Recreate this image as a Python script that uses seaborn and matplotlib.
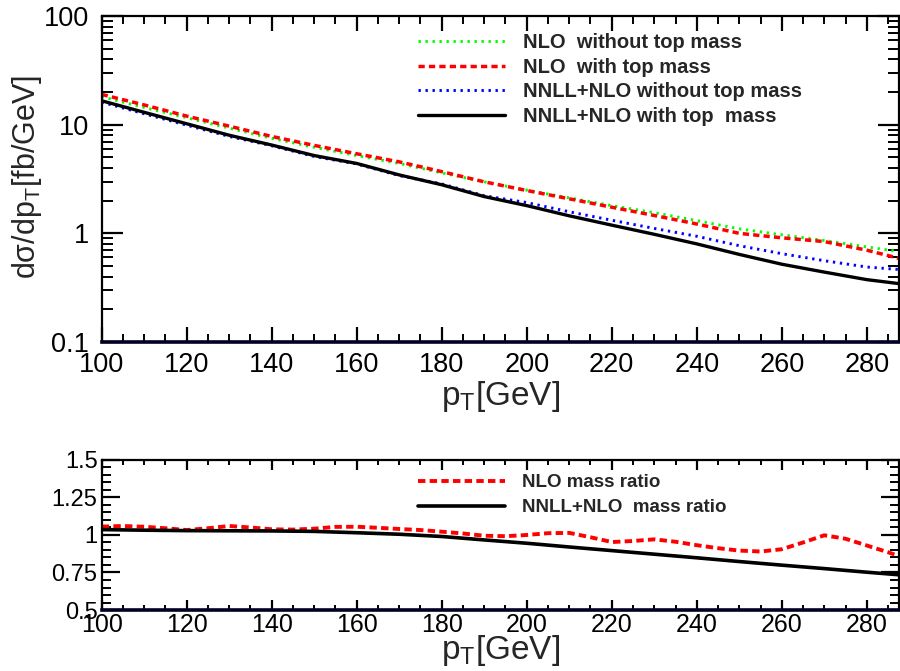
import numpy as np
import pandas as pd
import matplotlib
matplotlib.use("Agg")
import matplotlib.pyplot as plt
import seaborn as sns
from matplotlib.ticker import FixedLocator, FuncFormatter, LogLocator, MultipleLocator, NullFormatter

# ---------------- data ----------------
pt = [100, 110, 120, 130, 140, 150, 160, 170, 180, 190, 200, 210, 220, 230, 240, 250, 260, 270, 280, 287.5]
nlo_nomass = [18.1, 14.4, 11.6, 9.3, 7.5, 6.2, 5.2, 4.4, 3.6, 2.98, 2.5, 2.12, 1.8, 1.55, 1.31, 1.1, 0.97, 0.86, 0.75, 0.68]
nlo_mass = [19.0, 15.2, 12.0, 9.7, 7.8, 6.45, 5.4, 4.55, 3.7, 2.98, 2.48, 2.08, 1.74, 1.46, 1.22, 1.0, 0.91, 0.84, 0.70, 0.59]
nnll_nomass = [16.1, 12.6, 9.9, 7.8, 6.4, 5.1, 4.35, 3.4, 2.85, 2.22, 1.92, 1.58, 1.32, 1.11, 0.94, 0.77, 0.65, 0.56, 0.49, 0.465]
nnll_mass = [16.6, 13.0, 10.2, 8.0, 6.5, 5.2, 4.4, 3.45, 2.8, 2.18, 1.8, 1.45, 1.19, 0.98, 0.80, 0.64, 0.52, 0.44, 0.375, 0.345]

pt_ratio_nlo = [100, 105, 110, 115, 120, 125, 130, 135, 140, 145, 150, 155, 160, 165, 170, 175, 180, 185, 190, 195,
                200, 205, 210, 215, 220, 225, 230, 235, 240, 245, 250, 255, 260, 265, 270, 275, 280, 285, 287.5]
ratio_nlo = [1.056, 1.06, 1.055, 1.045, 1.033, 1.045, 1.06, 1.05, 1.038, 1.036, 1.042, 1.054, 1.055, 1.048, 1.04,
             1.033, 1.022, 1.01, 0.995, 0.992, 1.0, 1.012, 1.014, 0.985, 0.953, 0.96, 0.971, 0.955, 0.932, 0.912,
             0.896, 0.89, 0.905, 0.95, 0.998, 0.975, 0.93, 0.885, 0.86]
pt_ratio_nnll = [100, 110, 120, 130, 140, 150, 160, 170, 180, 190, 200, 210, 220, 230, 240, 250, 260, 270, 280, 287.5]
ratio_nnll = [1.036, 1.032, 1.029, 1.028, 1.027, 1.024, 1.015, 1.005, 0.99, 0.967, 0.945, 0.92, 0.896, 0.872, 0.848,
              0.823, 0.799, 0.776, 0.752, 0.735]

x_ticks = [100, 120, 140, 160, 180, 200, 220, 240, 260, 280]
ratio_ticks = [0.5, 0.75, 1.0, 1.25, 1.5]
log_ticks = [0.1, 1, 10, 100]

labels_top = ["NLO  without top mass", "NLO  with top mass", "NNLL+NLO without top mass", "NNLL+NLO with top  mass"]
labels_bot = ["NLO mass ratio", "NNLL+NLO  mass ratio"]

# ---------------- style ----------------
sns.set_theme(style="ticks")
plt.rcParams["font.family"] = ["Liberation Sans", "DejaVu Sans"]
plt.rcParams["mathtext.fontset"] = "custom"
plt.rcParams["mathtext.rm"] = "Liberation Sans"
plt.rcParams["mathtext.it"] = "Liberation Sans"
plt.rcParams["mathtext.default"] = "rm"

fig = plt.figure(figsize=(9, 6.71), dpi=100)
ax1 = fig.add_axes([0.113, 0.4903, 0.8855, 0.4858])
ax2 = fig.add_axes([0.113, 0.0909, 0.8855, 0.2236])

df = pd.DataFrame({"pt": pt, "a": nlo_nomass, "b": nlo_mass, "c": nnll_nomass, "d": nnll_mass})

dot = (0, (0.8, 1.6))
dash_top = (0, (1.8, 1.2))
dash_bot = (0, (1.9, 1.1))

sns.lineplot(data=df, x="pt", y="a", ax=ax1, color="#00ff00", lw=2.1, linestyle=dot,
             label=labels_top[0], sort=False, estimator=None)
sns.lineplot(data=df, x="pt", y="b", ax=ax1, color="#ff0000", lw=2.5, linestyle=dash_top,
             label=labels_top[1], sort=False, estimator=None)
sns.lineplot(data=df, x="pt", y="c", ax=ax1, color="#0000ff", lw=2.1, linestyle=dot,
             label=labels_top[2], sort=False, estimator=None)
sns.lineplot(data=df, x="pt", y="d", ax=ax1, color="black", lw=2.4, linestyle="-",
             label=labels_top[3], sort=False, estimator=None)

ax1.set_yscale("log")
ax1.set_xlim(100, 287.5)
ax1.set_ylim(0.1, 100)

sns.lineplot(x=pt_ratio_nlo, y=ratio_nlo, ax=ax2, color="#ff0000", lw=2.8, linestyle=dash_bot,
             label=labels_bot[0], sort=False, estimator=None)
sns.lineplot(x=pt_ratio_nnll, y=ratio_nnll, ax=ax2, color="black", lw=2.6, linestyle="-",
             label=labels_bot[1], sort=False, estimator=None)
ax2.set_xlim(100, 287.5)
ax2.set_ylim(0.5, 1.5)

fmt = FuncFormatter(lambda v, p: "%g" % v)

# ticks top panel
ax1.xaxis.set_major_locator(FixedLocator(x_ticks))
ax1.xaxis.set_minor_locator(MultipleLocator(5))
ax1.yaxis.set_major_locator(FixedLocator(log_ticks))
ax1.yaxis.set_minor_locator(LogLocator(base=10, subs=np.arange(2, 10)))
ax1.yaxis.set_major_formatter(fmt)
ax1.yaxis.set_minor_formatter(NullFormatter())
ax1.xaxis.set_major_formatter(fmt)
ax1.tick_params(axis="both", which="both", direction="in", top=True, right=True, colors="black")
ax1.tick_params(axis="x", which="major", length=11, width=1.6, labelsize=19.5, pad=7)
ax1.tick_params(axis="x", which="minor", length=5.5, width=1.4)
ax1.tick_params(axis="y", which="major", length=15, width=1.6, labelsize=19.5, pad=9)
ax1.tick_params(axis="y", which="minor", length=8, width=1.4)

# ticks bottom panel
ax2.xaxis.set_major_locator(FixedLocator(x_ticks))
ax2.xaxis.set_minor_locator(MultipleLocator(5))
ax2.yaxis.set_major_locator(FixedLocator(ratio_ticks))
ax2.yaxis.set_minor_locator(MultipleLocator(0.05))
ax2.yaxis.set_major_formatter(fmt)
ax2.xaxis.set_major_formatter(fmt)
ax2.tick_params(axis="both", which="both", direction="in", top=True, right=True, colors="black")
ax2.tick_params(axis="x", which="major", length=7, width=1.6, labelsize=18, pad=2)
ax2.tick_params(axis="x", which="minor", length=3.5, width=1.4)
ax2.tick_params(axis="y", which="major", length=13, width=1.6, labelsize=17, pad=3)
ax2.tick_params(axis="y", which="minor", length=6.5, width=1.4)

for ax in (ax1, ax2):
    for s in ax.spines.values():
        s.set_color("black")
        s.set_linewidth(1.6)
    ax.spines["bottom"].set_linewidth(2.6)
    ax.spines["bottom"].set_color("#000022")
    ax.set_facecolor("white")

ax1.set_ylabel("dσ/dp$_{\\mathregular{T}}$[fb/GeV]", fontsize=22)
ax1.yaxis.set_label_coords(-0.072, 0.505)
ax1.set_xlabel("p$_{\\mathregular{T}}$[GeV]", fontsize=24)
ax1.xaxis.set_label_coords(0.5, -0.112)

ax2.set_ylabel("")
ax2.set_xlabel("p$_{\\mathregular{T}}$[GeV]", fontsize=24)
ax2.xaxis.set_label_coords(0.5, -0.15)

leg1 = ax1.legend(loc="upper left", bbox_to_anchor=(418 / 900, 1 - 33 / 671), bbox_transform=fig.transFigure,
                  frameon=False, borderpad=0, borderaxespad=0, handlelength=4.33, handletextpad=0.9,
                  labelspacing=0.28, prop={"weight": "bold", "size": 14.5})
leg2 = ax2.legend(loc="upper left", bbox_to_anchor=(418 / 900, 1 - 474 / 671), bbox_transform=fig.transFigure,
                  frameon=False, borderpad=0, borderaxespad=0, handlelength=4.64, handletextpad=0.9,
                  labelspacing=0.42, prop={"weight": "bold", "size": 13.5})

fig.savefig("out.png", dpi=100, facecolor="white")
